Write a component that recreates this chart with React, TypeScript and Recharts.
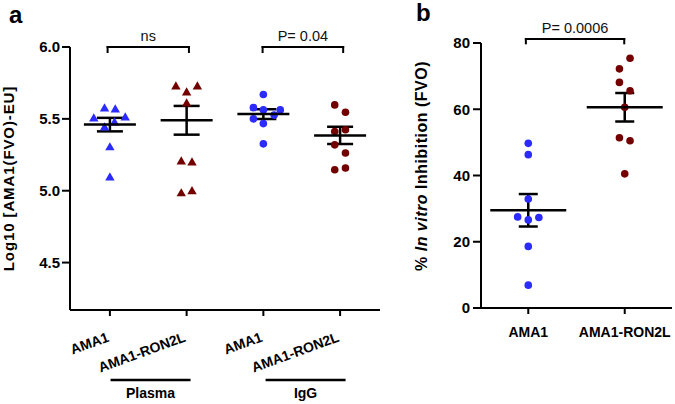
import React from 'react';
import { ScatterChart, Scatter, XAxis, YAxis, ErrorBar, ReferenceLine } from 'recharts';

const BLUE = '#2b2bff';
const RED = '#720000';
const FONT = '"Liberation Sans", Arial, Helvetica, sans-serif';

// ---------- Panel a ----------
const catsA = ['AMA1', 'AMA1-RON2L', 'AMA1', 'AMA1-RON2L'];
const catPosA = [1, 2, 3, 4];
const groupsA = ['Plasma', 'IgG'];
const groupPosA = [1.53, 3.55];
const yTicksA = [4.5, 5.0, 5.5, 6.0];

const plasmaAMA1 = [5.576, 5.569, 5.507, 5.514, 5.444, 5.479, 5.306, 5.097];
const plasmaAMA1Jit = [-0.07, 0.07, -0.21, 0.2, -0.07, 0.06, 0, 0];
const plasmaRON2L = [5.729, 5.688, 5.729, 5.611, 5.208, 5.201, 4.986, 5.0];
const plasmaRON2LJit = [-0.14, 0, 0.14, 0, -0.07, 0.07, -0.07, 0.07];
const iggAMA1 = [5.669, 5.578, 5.5625, 5.5625, 5.526, 5.5, 5.467, 5.326];
const iggAMA1Jit = [0, -0.13, 0, 0.22, 0.14, -0.13, 0, 0];
const iggRON2L = [5.597, 5.546, 5.412, 5.424, 5.319, 5.262, 5.146, 5.158];
const iggRON2LJit = [-0.07, 0.07, -0.07, 0.07, -0.07, 0.07, -0.07, 0.07];

const meansA = [5.46, 5.49, 5.533, 5.385];
const semsA = [0.047, 0.1, 0.034, 0.06];

const bracketsA = [
  { x1: 0.97, x2: 2.03, top: 6.0, drop: 5.965, text: 'ns' },
  { x1: 2.99, x2: 4.04, top: 6.0, drop: 5.965, text: 'P= 0.04' },
];

// ---------- Panel b ----------
const catsB = ['AMA1', 'AMA1-RON2L'];
const catPosB = [1, 2];
const yTicksB = [0, 20, 40, 60, 80];
const inhibAMA1 = [49.7, 46.3, 32.9, 27.5, 27.3, 26.6, 18.6, 6.9];
const inhibAMA1Jit = [0, 0, 0, -0.11, 0.11, 0, 0, 0];
const inhibRON2L = [75.4, 72.2, 68.1, 65.6, 60.6, 51.4, 50.5, 40.5];
const inhibRON2LJit = [0.055, -0.055, -0.055, 0.055, 0, -0.055, 0.055, 0];
const meansB = [29.5, 60.6];
const semsB = [4.9, 4.3];
const bracketsB = [{ x1: 0.975, x2: 1.995, top: 81.2, drop: 79.9, text: 'P= 0.0006' }];

const pts = (g: number, vals: number[], jit: number[]) =>
  vals.map((v, i) => ({ x: g + jit[i], y: v }));

const triShape = (color: string) => (p: any) => (
  <polygon
    points={`${p.cx},${p.cy - 4.6} ${p.cx + 4.7},${p.cy + 3.6} ${p.cx - 4.7},${p.cy + 3.6}`}
    fill={color}
  />
);
const dotShape = (color: string) => (p: any) => (
  <circle cx={p.cx} cy={p.cy} r={3.8} fill={color} />
);
const meanShape = (half: number) => (p: any) => (
  <line x1={p.cx - half} x2={p.cx + half} y1={p.cy} y2={p.cy} stroke="#000" strokeWidth={2.5} />
);

const bracket = (b: any, key: string) => {
  const common = { stroke: '#000', strokeWidth: 2, ifOverflow: 'visible' as const, strokeLinecap: 'square' as const };
  return [
    <ReferenceLine
      key={key + 'h'}
      segment={[{ x: b.x1, y: b.top }, { x: b.x2, y: b.top }]}
      {...common}
      label={{ value: b.text, position: 'top', offset: 6, fill: '#111', fontSize: 14.5, fontFamily: FONT }}
    />,
    <ReferenceLine key={key + 'l'} segment={[{ x: b.x1, y: b.top }, { x: b.x1, y: b.drop }]} {...common} />,
    <ReferenceLine key={key + 'r'} segment={[{ x: b.x2, y: b.top }, { x: b.x2, y: b.drop }]} {...common} />,
  ];
};

const axisLine = { stroke: '#000', strokeWidth: 2 };
const yTickStyle = { fontSize: 15, fontWeight: 700, fill: '#000', fontFamily: FONT };

const TickA = (p: any) => {
  const idx = catPosA.indexOf(p.payload.value);
  const ax = p.x;
  const ay = p.y + 25;
  return (
    <text
      x={ax}
      y={ay}
      textAnchor="end"
      transform={`rotate(-20 ${ax} ${ay})`}
      fontSize={14}
      fontWeight={700}
      fontFamily={FONT}
      fill="#000"
    >
      {catsA[idx]}
    </text>
  );
};

const GroupTickA = (p: any) => {
  const idx = groupPosA.indexOf(p.payload.value);
  return (
    <g>
      <line x1={p.x - 40} x2={p.x + 40} y1={p.y + 10} y2={p.y + 10} stroke="#000" strokeWidth={2.5} />
      <text x={p.x} y={p.y + 28} textAnchor="middle" fontSize={14} fontWeight={700} fontFamily={FONT} fill="#000">
        {groupsA[idx]}
      </text>
    </g>
  );
};

const TickB = (p: any) => {
  const idx = catPosB.indexOf(p.payload.value);
  return (
    <text x={p.x} y={p.y + 23} textAnchor="middle" fontSize={14} fontWeight={700} fontFamily={FONT} fill="#000">
      {catsB[idx]}
    </text>
  );
};

const YLabelA = () => (
  <text
    transform="translate(14 178.5) rotate(-90)"
    textAnchor="middle"
    fontSize={15}
    fontWeight={700}
    fontFamily={FONT}
    letterSpacing={0.9}
    fill="#000"
  >
    Log10 [AMA1(FVO)-EU]
  </text>
);

const YLabelB = () => (
  <text
    transform="translate(37 166) rotate(-90)"
    textAnchor="middle"
    fontSize={16}
    fontWeight={700}
    fontFamily={FONT}
    letterSpacing={0.5}
    fill="#000"
  >
    % <tspan fontStyle="italic">In vitro</tspan> Inhibition (FVO)
  </text>
);

export default function App() {
  const meanDataA = meansA.map((m, i) => ({ x: catPosA[i], y: m, sem: semsA[i] }));
  const meanDataB = meansB.map((m, i) => ({ x: catPosB[i], y: m, sem: semsB[i] }));
  return (
    <div style={{ position: 'absolute', left: 0, top: 0, width: 675, height: 404, background: '#fff' }}>
      <div style={{ position: 'absolute', left: 0, top: 0 }}>
        <ScatterChart width={390} height={404} margin={{ top: 47, right: 10, bottom: 0, left: 10 }}>
          <XAxis
            type="number"
            dataKey="x"
            domain={[0.48, 4.52]}
            ticks={catPosA}
            interval={0}
            height={60}
            axisLine={axisLine}
            tickLine={axisLine}
            tickSize={6}
            tickMargin={0}
            tick={TickA}
            allowDataOverflow
          />
          <XAxis
            xAxisId="grp"
            type="number"
            dataKey="x"
            domain={[0.48, 4.52]}
            ticks={groupPosA}
            interval={0}
            height={34}
            axisLine={false}
            tickLine={false}
            tickSize={0}
            tickMargin={0}
            tick={GroupTickA}
            allowDataOverflow
          />
          <YAxis
            type="number"
            dataKey="y"
            domain={[4.17, 6]}
            ticks={yTicksA}
            interval={0}
            width={60}
            axisLine={axisLine}
            tickLine={axisLine}
            tickSize={8}
            tickMargin={2}
            tick={yTickStyle}
            tickFormatter={(v: number) => v.toFixed(1)}
            allowDataOverflow
            label={YLabelA}
          />
          <Scatter data={pts(1, plasmaAMA1, plasmaAMA1Jit)} shape={triShape(BLUE)} isAnimationActive={false} />
          <Scatter data={pts(2, plasmaRON2L, plasmaRON2LJit)} shape={triShape(RED)} isAnimationActive={false} />
          <Scatter data={pts(3, iggAMA1, iggAMA1Jit)} shape={dotShape(BLUE)} isAnimationActive={false} />
          <Scatter data={pts(4, iggRON2L, iggRON2LJit)} shape={dotShape(RED)} isAnimationActive={false} />
          <Scatter data={meanDataA} shape={meanShape(26)} isAnimationActive={false}>
            <ErrorBar dataKey="sem" direction="y" width={13} stroke="#000" strokeWidth={2.5} isAnimationActive={false} />
          </Scatter>
          {bracketsA.map((b, i) => bracket(b, 'a' + i))}
        </ScatterChart>
      </div>
      <div style={{ position: 'absolute', left: 390, top: 0 }}>
        <ScatterChart width={285} height={404} margin={{ top: 43, right: 3, bottom: 0, left: 41 }}>
          <XAxis
            type="number"
            dataKey="x"
            domain={[0.51, 2.49]}
            ticks={catPosB}
            interval={0}
            height={96}
            axisLine={axisLine}
            tickLine={axisLine}
            tickSize={6}
            tickMargin={0}
            tick={TickB}
            allowDataOverflow
          />
          <YAxis
            type="number"
            dataKey="y"
            domain={[0, 80]}
            ticks={yTicksB}
            interval={0}
            width={50}
            axisLine={axisLine}
            tickLine={axisLine}
            tickSize={8}
            tickMargin={3}
            tick={yTickStyle}
            allowDataOverflow
            label={YLabelB}
          />
          <Scatter data={pts(1, inhibAMA1, inhibAMA1Jit)} shape={dotShape(BLUE)} isAnimationActive={false} />
          <Scatter data={pts(2, inhibRON2L, inhibRON2LJit)} shape={dotShape(RED)} isAnimationActive={false} />
          <Scatter data={meanDataB} shape={meanShape(38)} isAnimationActive={false}>
            <ErrorBar dataKey="sem" direction="y" width={9.5} stroke="#000" strokeWidth={2.5} isAnimationActive={false} />
          </Scatter>
          {bracketsB.map((b, i) => bracket(b, 'b' + i))}
        </ScatterChart>
      </div>
      <svg width={675} height={404} style={{ position: 'absolute', left: 0, top: 0, pointerEvents: 'none' }}>
        <text x={9} y={22.5} fontSize={24} fontWeight={700} fontFamily={FONT} fill="#000">a</text>
        <text x={416} y={20.7} fontSize={24} fontWeight={700} fontFamily={FONT} fill="#000">b</text>
      </svg>
    </div>
  );
}
